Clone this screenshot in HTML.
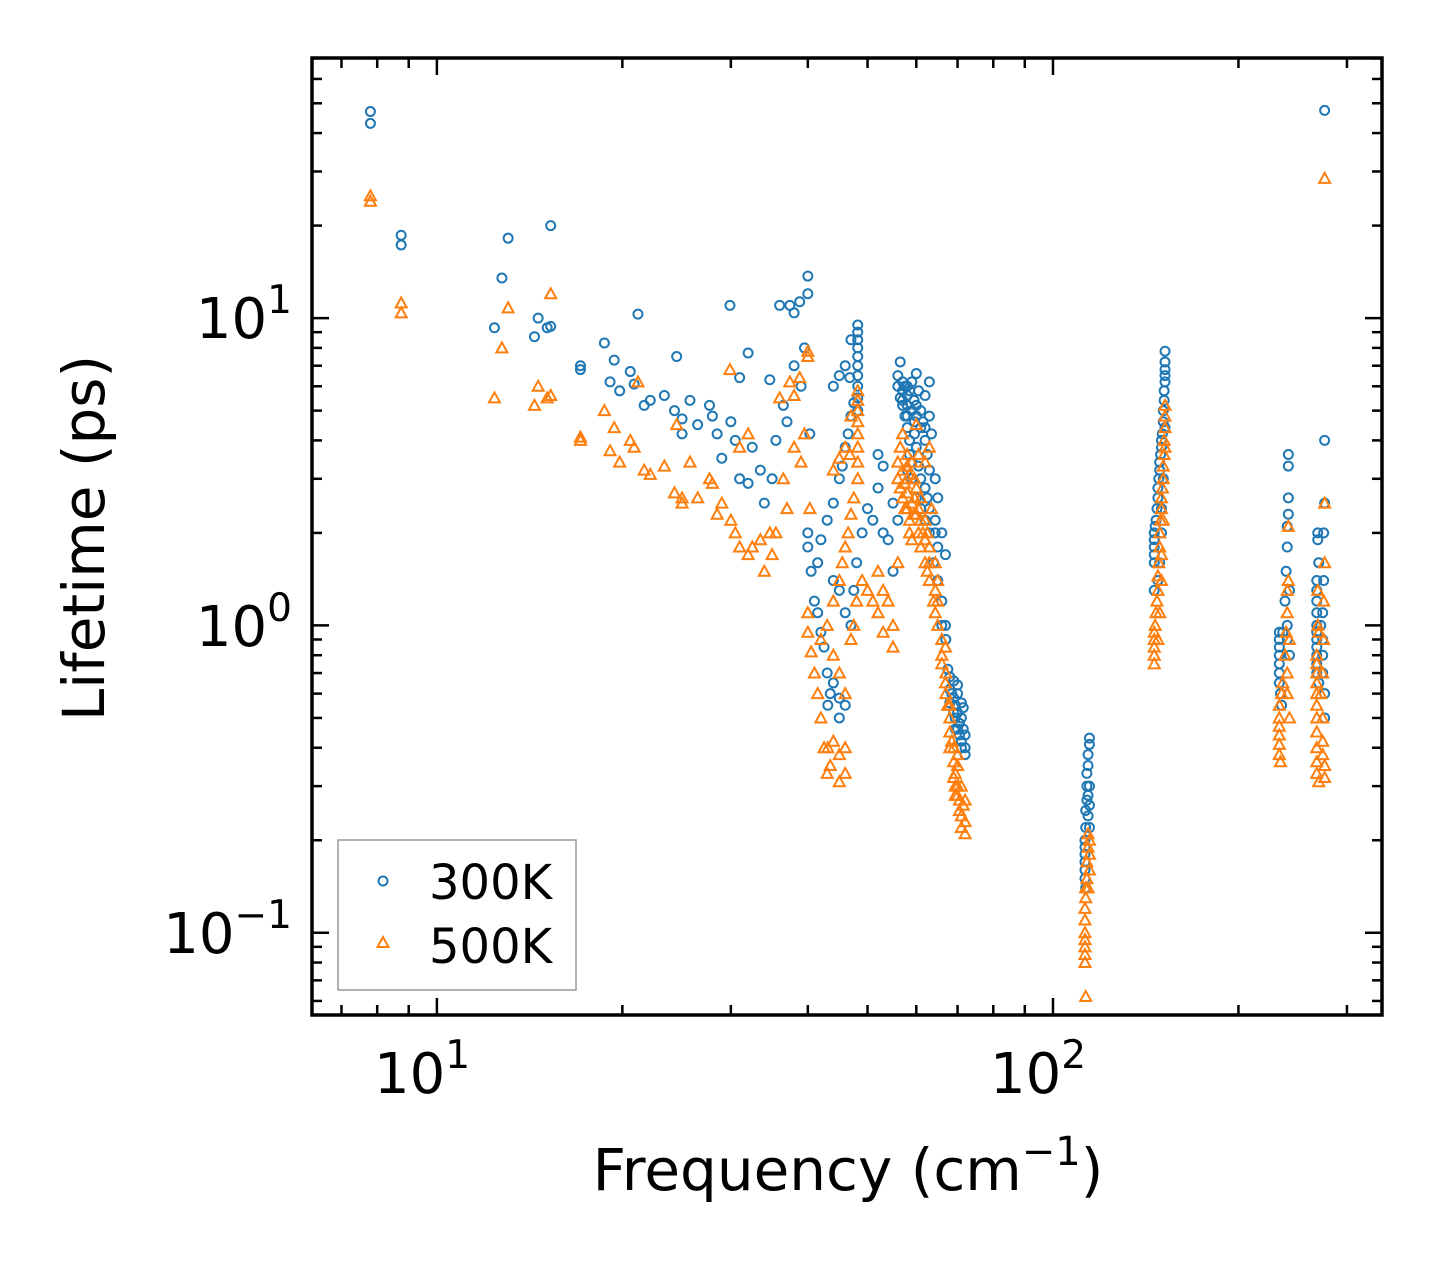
<!DOCTYPE html>
<html><head><meta charset="utf-8"><style>
html,body{margin:0;padding:0;background:#fff;}
svg{display:block;font-family:"DejaVu Sans","Liberation Sans",sans-serif;}
</style></head><body>
<svg id="chart" width="1442" height="1265" viewBox="0 0 1442 1265" xmlns="http://www.w3.org/2000/svg">
<rect width="1442" height="1265" fill="#fff"/>
<g id="marks"></g>
<g id="ticks"></g>
<rect x="312" y="58" width="1070" height="957" fill="none" stroke="#000" stroke-width="3.5"/>
<g font-size="56" text-anchor="middle">
<text x="422" y="1093">10<tspan dy="-25" font-size="39">1</tspan></text>
<text x="1038" y="1093">10<tspan dy="-25" font-size="39">2</tspan></text>
</g>
<g font-size="56" text-anchor="end">
<text x="292" y="338">10<tspan dy="-25" font-size="39">1</tspan></text>
<text x="292" y="646">10<tspan dy="-25" font-size="39">0</tspan></text>
<text x="292" y="953">10<tspan dy="-25" font-size="39">−1</tspan></text>
</g>
<text x="848" y="1190" font-size="58" text-anchor="middle">Frequency (cm<tspan dy="-25" font-size="40">−1</tspan><tspan dy="25">)</tspan></text>
<text transform="translate(104,538) rotate(-90)" font-size="58" text-anchor="middle">Lifetime (ps)</text>
<g>
<rect x="338" y="840" width="238" height="150" fill="#fff" stroke="#999" stroke-width="1.5"/>
<circle cx="383" cy="881" r="4.5" fill="none" stroke="#1f77b4" stroke-width="2"/>
<text x="429" y="899" font-size="48">300K</text>
<path d="M383,937 L388.5,947 L377.5,947 Z" fill="none" stroke="#ff7f0e" stroke-width="2"/>
<text x="429" y="963" font-size="48">500K</text>
</g>
</svg>
<script>
const xDomain=[6.27,342];
const yDomain=[0.054,70.2];
const xMajorTicks=[10,100];
const xMinorTicks=[7,8,9,20,30,40,50,60,70,80,90,200,300];
const yMajorTicks=[0.1,1,10];
const yMinorTicks=[0.06,0.07,0.08,0.09,0.2,0.3,0.4,0.5,0.6,0.7,0.8,0.9,2,3,4,5,6,7,8,9,20,30,40,50,60,70];
const data300=[[7.8,47],[7.8,43],[8.75,18.6],[8.75,17.3],[12.4,9.3],[12.75,13.5],[13.05,18.2],[14.4,8.7],[14.6,10],[15.1,9.3],[15.3,9.4],[15.3,20],[17.1,6.8],[17.1,7],[18.7,8.3],[19.1,6.2],[19.4,7.3],[19.8,5.8],[20.6,6.7],[20.9,6.1],[21.2,10.3],[21.7,5.2],[22.2,5.4],[23.4,5.6],[24.5,7.5],[24.3,5],[25,4.7],[25.75,5.4],[25,4.2],[26.5,4.5],[27.7,5.2],[28,4.8],[28.5,4.2],[29,3.5],[29.9,11],[30,4.6],[30.5,4.0],[31,6.4],[31,3],[32,7.7],[32,2.9],[32.5,3.8],[33.5,3.2],[34,2.5],[34.7,6.3],[35,3],[35.5,4],[36,11],[36.5,5.2],[37,4.6],[37.4,11],[38,10.4],[38,7],[38.8,11.3],[39,6],[39.5,8],[40,13.7],[40,12],[40.3,4.2],[40,2.0],[40,1.8],[40.5,1.5],[41,1.2],[41.5,1.1],[42,0.95],[42.5,0.85],[43,0.7],[43.1,0.55],[43.5,0.6],[44,0.65],[45,0.58],[45,0.5],[46,0.55],[44,6],[45,6.5],[46,7],[46.8,6.4],[47,8.5],[48.2,9.5],[48.2,9],[48.2,8.5],[48.2,8],[48.2,7.5],[48.2,7],[48.2,6.5],[48.2,6],[48.2,5.5],[48.2,5],[47.5,5.3],[47,4.8],[46.5,4.2],[46,3.8],[45.5,3.3],[45,3.0],[44,2.5],[43,2.2],[42,1.9],[41.5,1.6],[44,1.4],[45,1.3],[46,1.1],[47,1.0],[47.5,1.3],[48,1.6],[49,2.0],[50,2.4],[51,2.2],[52,3.6],[52,2.8],[53,3.3],[53,2.0],[54,1.9],[55,1.5],[55,2.5],[56,2.2],[56.5,7.2],[56,6.5],[56,6.0],[56.5,5.5],[57,5.8],[57,5.2],[57.5,4.8],[57,6.2],[58,6.0],[58,5.6],[58,5.2],[58,4.8],[58,4.4],[58.5,4.0],[58.5,3.6],[59,3.4],[59,5.0],[59.6,4.6],[59.6,4.2],[60,3.8],[60,6.6],[60.5,5.8],[60.5,3.3],[61,3.0],[61,4.4],[62,2.8],[62,4.0],[62,5.6],[62.5,3.6],[62.5,2.6],[63,2.4],[63,3.2],[63,6.2],[63.5,4.2],[64.4,3.0],[64.4,2.2],[64.4,2.0],[65,2.6],[65,1.8],[66,2.0],[66.9,1.7],[66,1.2],[66.9,1.0],[67,0.9],[67.5,0.72],[68,0.68],[68,0.62],[68.5,0.6],[69,0.66],[69,0.58],[69.4,0.55],[69.4,0.5],[69.4,0.46],[70,0.6],[70,0.52],[70.5,0.48],[70.5,0.44],[71,0.5],[71,0.42],[71.5,0.46],[72,0.44],[72,0.4],[72,0.38],[71,0.56],[70,0.64],
[57,5.4],[57.5,6.0],[58.5,5.8],[59,6.2],[59.5,5.4],[60,5.2],[60,4.8],[61,5.0],[61.5,4.6],[62,4.4],[63,4.8],[58,3.2],[59,3.0],[60,2.6],[61,2.4],[62,2.2],[63,2.0],[64,1.6],[65,1.4],[66,1.0],[68,0.56],[69,0.52],[70,0.46],[71,0.4],[71.5,0.54],
[112.7,0.2],[112.7,0.19],[112.7,0.18],[112.7,0.17],[112.7,0.16],[112.7,0.15],[113,0.22],[113,0.25],[113.5,0.27],[113.5,0.3],[113.5,0.33],[114,0.35],[114,0.38],[114.6,0.41],[114.6,0.43],[114,0.24],[114,0.28],[114.6,0.3],[114.6,0.26],[114.6,0.22],[113,0.14],
[146,1.6],[146,1.7],[146,1.8],[146,1.9],[146,2.0],[146.5,2.1],[147,2.2],[147.5,2.4],[148,2.6],[148,2.8],[148.5,3.0],[149,3.2],[149,3.4],[149.5,3.6],[150,3.8],[150,4.0],[150.5,4.2],[151,4.6],[151,5.0],[151.5,5.4],[151.5,5.8],[152,6.2],[152,6.5],[152,6.8],[152,7.2],[152,7.8],[152,4.4],[151,3.0],[150,2.4],[150,2.0],[149,1.6],[148,1.4],[146,1.3],
[233,0.95],[233,0.9],[233,0.85],[233,0.8],[233,0.75],[233,0.7],[233,0.65],[234,0.6],[235,0.55],[236,0.95],[238,1.2],[239,1.5],[240,1.8],[240,2.1],[241,2.3],[241,2.6],[241,3.3],[241,3.6],[240,1.0],[240,0.9],[242,1.3],[242,0.8],
[268,1.4],[268,1.3],[268,1.2],[268,1.1],[268,1.0],[268,0.95],[268,0.9],[268,0.85],[268,0.8],[268,0.75],[268,0.7],[269,2.0],[269,1.9],[270,0.65],[272,1.0],[274,0.9],[274,1.1],[275,1.4],[275,2.0],[276,2.5],[276,4.0],[276,47.4],[274,0.8],[274,0.7],[276,0.6],[276,0.5],[270,1.6]];
const data500=[[7.8,25],[7.8,24],[8.75,11.2],[8.75,10.4],[12.4,5.5],[12.75,8],[13.05,10.8],[14.4,5.2],[14.6,6],[15.1,5.5],[15.3,5.6],[15.3,12],[17.1,4.1],[17.1,4],[18.7,5],[19.1,3.7],[19.4,4.4],[19.8,3.4],[20.6,4.0],[20.9,3.8],[21.2,6.2],[21.7,3.2],[22.2,3.1],[23.4,3.3],[24.5,4.5],[24.3,2.7],[25,2.5],[25.75,3.4],[25,2.6],[26.5,2.6],[27.7,3.0],[28,2.9],[28.5,2.3],[29,2.5],[29.9,6.8],[30,2.2],[30.5,2.0],[31,3.8],[31,1.8],[32,4.2],[32,1.7],[32.5,1.8],[33.5,1.9],[34,1.5],[34.7,2.0],[35,1.7],[35.5,2.0],[36,5.5],[36.5,3.0],[37,2.4],[37.4,6.2],[38,5.6],[38,3.8],[38.8,6.4],[39,3.4],[39.5,4.2],[40,7.5],[40,7.8],[40.3,2.4],[40,1.1],[40,0.95],[40.5,0.82],[41,0.7],[41.5,0.6],[42,0.5],[42.5,0.4],[43,0.33],[43.1,0.4],[43.5,0.35],[44,0.42],[45,0.31],[45,0.38],[46,0.33],[46,0.4],[44,3.2],[45,3.5],[46,3.8],[46.8,3.6],[47,4.8],[48.2,5.8],[48.2,5.4],[48.2,5.0],[48.2,4.6],[48.2,4.2],[48.2,3.8],[48.2,3.4],[48.2,3.0],[47.5,2.6],[47,2.3],[46.5,2.0],[46,1.8],[45.5,1.6],[45,1.4],[44,1.2],[43,1.0],[42,0.9],[44,0.8],[45,0.7],[46,0.6],[47,0.9],[47.5,1.0],[48,1.2],[49,1.4],[50,1.3],[51,1.2],[52,1.1],[52,1.5],[53,0.95],[53,1.3],[54,1.2],[55,0.85],[55,1.0],[56,1.6],[56.5,3.8],[56,3.4],[56,3.0],[56.5,2.8],[57,3.2],[57,2.6],[57.5,2.4],[57,4.2],[58,3.6],[58,3.3],[58,3.0],[58,2.7],[58,2.4],[58.5,2.2],[58.5,2.0],[59,1.9],[59,3.4],[59.6,3.0],[59.6,2.6],[60,2.3],[60,4.5],[60.5,3.6],[60.5,2.0],[61,1.8],[61,2.6],[62,1.6],[62,2.2],[62,3.4],[62.5,2.0],[62.5,1.5],[63,1.4],[63,1.8],[63,3.8],[63.5,2.4],[64.4,1.6],[64.4,1.3],[64.4,1.1],[65,1.4],[65,1.0],[66,0.9],[66.9,0.85],[66,0.75],[66.9,0.65],[67,0.6],[67.5,0.55],[68,0.5],[68,0.45],[68.5,0.42],[69,0.4],[69,0.36],[69.4,0.33],[69.4,0.3],[69.4,0.28],[70,0.35],[70,0.3],[70.5,0.27],[70.5,0.25],[71,0.3],[71,0.24],[71.5,0.26],[72,0.23],[72,0.21],[72,0.27],[70,0.38],[68,0.55],
[57.5,2.9],[58.5,3.1],[59,2.5],[59.5,2.3],[60,2.8],[60.5,2.4],[61,2.2],[61.5,2.0],[62,1.9],[63,1.6],[64,1.2],[65,1.2],[66,0.8],[67,0.7],[68,0.4],[69,0.32],[70,0.28],[71,0.22],
[112.7,0.12],[112.7,0.11],[112.7,0.1],[112.7,0.095],[112.7,0.09],[112.7,0.085],[112.7,0.08],[113,0.13],[113,0.14],[113.5,0.15],[113.5,0.17],[114,0.19],[114,0.21],[114.6,0.2],[114.6,0.18],[114.6,0.16],[114,0.14],[113,0.062],
[146,0.75],[146,0.8],[146,0.85],[146,0.9],[146,0.95],[146.5,1.0],[147,1.1],[147.5,1.2],[148,1.3],[148,1.45],[148.5,1.6],[149,1.8],[149,2.0],[149.5,2.2],[150,2.4],[150,2.6],[150.5,2.8],[151,3.0],[151,3.3],[151.5,3.6],[151.5,4.0],[152,4.4],[152,4.8],[152,5.2],[152,3.8],[151,2.2],[150,1.7],[150,1.4],[149,1.1],[148,0.9],
[233,0.55],[233,0.5],[233,0.47],[233,0.44],[233,0.41],[233,0.38],[234,0.36],[235,0.6],[236,0.65],[238,0.8],[239,0.95],[240,1.1],[240,1.3],[241,1.4],[241,2.1],[240,0.7],[240,0.6],[242,0.9],[242,0.5],
[268,0.8],[268,0.75],[268,0.7],[268,0.65],[268,0.6],[268,0.55],[268,0.5],[268,0.45],[268,0.4],[268,0.36],[268,0.33],[269,1.3],[269,1.0],[270,0.31],[272,0.6],[274,0.5],[274,0.7],[275,0.9],[275,1.2],[276,1.6],[276,2.5],[276,28.5],[274,0.42],[274,0.38],[276,0.35],[276,0.32],[270,0.95]];

const PL=312,PR=1382,PT=58,PB=1015;
const NS="http://www.w3.org/2000/svg";
function xs(v){return PL+(Math.log10(v)-Math.log10(xDomain[0]))/(Math.log10(xDomain[1])-Math.log10(xDomain[0]))*(PR-PL);}
function ys(v){return PB-(Math.log10(v)-Math.log10(yDomain[0]))/(Math.log10(yDomain[1])-Math.log10(yDomain[0]))*(PB-PT);}
function mk(tag,attrs,parent){const e=document.createElementNS(NS,tag);for(const k in attrs)e.setAttribute(k,attrs[k]);parent.appendChild(e);return e;}
const tg=document.getElementById('ticks');
function tick(x1,y1,x2,y2){return mk('line',{x1:x1,y1:y1,x2:x2,y2:y2,stroke:'#000','stroke-width':2.5},tg);}
xMajorTicks.forEach(v=>{const x=xs(v);
 let a=tick(x,PB,x,PB-17);
 let b=tick(x,PT,x,PT+17);});
xMinorTicks.forEach(v=>{const x=xs(v);
 let a=tick(x,PB,x,PB-10);
 let b=tick(x,PT,x,PT+10);});
yMajorTicks.forEach(v=>{const y=ys(v);
 let a=tick(PL,y,PL+17,y);
 let b=tick(PR,y,PR-17,y);});
yMinorTicks.forEach(v=>{const y=ys(v);
 let a=tick(PL,y,PL+10,y);
 let b=tick(PR,y,PR-10,y);});
const mg=document.getElementById('marks');
data300.forEach(d=>{const c=mk('circle',{cx:xs(d[0]),cy:ys(d[1]),r:4.5,fill:'none',stroke:'#1f77b4','stroke-width':2},mg);
 
 });
data500.forEach(d=>{const x=xs(d[0]),y=ys(d[1]);
 const p=mk('path',{d:`M${x},${y-5.5} L${x+5.5},${y+4.5} L${x-5.5},${y+4.5} Z`,fill:'none',stroke:'#ff7f0e','stroke-width':2},mg);
 
 });
</script>
</body></html>
